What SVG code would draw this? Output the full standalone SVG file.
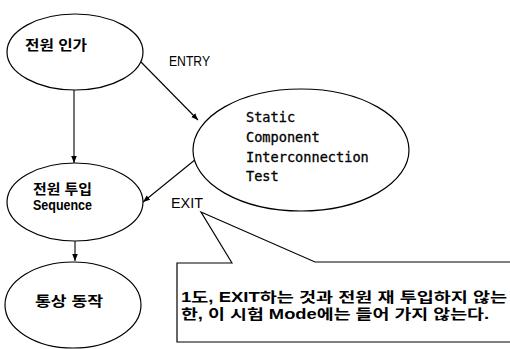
<svg xmlns="http://www.w3.org/2000/svg" width="510" height="349" viewBox="0 0 510 349">
<style>
.n{fill:#fff;stroke:#000;stroke-width:1.2}
.c{stroke:#000;stroke-width:1.1;fill:none}
.k{font-family:"Liberation Sans","Noto Sans CJK KR",sans-serif;font-size:14px;font-weight:bold;fill:#000}
.l{font-family:"Liberation Sans","Noto Sans CJK KR",sans-serif;font-size:14px;fill:#000}
.m{font-family:"DejaVu Sans Mono","Liberation Mono",monospace;font-size:13.6px;fill:#000;stroke:#000;stroke-width:0.3}
</style>
<defs>
<marker id="ah" viewBox="0 0 10 10" refX="10" refY="5" markerWidth="7" markerHeight="7" orient="auto" markerUnits="userSpaceOnUse">
<path d="M0,1 L10,5 L0,9 z" fill="#000"/>
</marker>
</defs>
<rect width="510" height="349" fill="#fff"/>
<g id="callout">
<path d="M232,263 L201,212 L315,262 L512,262 L512,342 L177,342 L177,263 Z" fill="#fff" stroke="#000" stroke-width="1.2"/>
<text class="k" x="181" y="302" textLength="326" lengthAdjust="spacingAndGlyphs">1도, EXIT하는 것과 전원 재 투입하지 않는</text>
<text class="k" x="181" y="319" textLength="308" lengthAdjust="spacingAndGlyphs">한, 이 시험 Mode에는 들어 가지 않는다.</text>
</g>
<g id="connectors">
<line class="c" x1="74" y1="90" x2="74" y2="163" marker-end="url(#ah)"/>
<line class="c" x1="141" y1="62" x2="198" y2="120" marker-end="url(#ah)"/>
<line class="c" x1="196" y1="159" x2="143" y2="202" marker-end="url(#ah)"/>
<line class="c" x1="75" y1="241" x2="75" y2="261" marker-end="url(#ah)"/>
<text class="l" x="169" y="66" font-size="15" textLength="41" lengthAdjust="spacingAndGlyphs">ENTRY</text>
<text class="l" x="171" y="208" font-size="15" textLength="32" lengthAdjust="spacingAndGlyphs">EXIT</text>
</g>
<g id="power-apply">
<ellipse class="n" cx="75" cy="52" rx="68" ry="38"/>
<text class="k" x="25" y="50" font-size="15" textLength="62" lengthAdjust="spacingAndGlyphs">전원 인가</text>
</g>
<g id="power-sequence">
<ellipse class="n" cx="75" cy="202" rx="68" ry="39"/>
<text class="k" x="33" y="194" textLength="59" lengthAdjust="spacingAndGlyphs">전원 투입</text>
<text class="k" x="33" y="210" textLength="59" lengthAdjust="spacingAndGlyphs">Sequence</text>
</g>
<g id="normal-op">
<ellipse class="n" cx="73" cy="305" rx="68" ry="43"/>
<text class="k" x="35" y="306" font-size="15" textLength="68" lengthAdjust="spacingAndGlyphs">통상 동작</text>
</g>
<g id="static-test">
<ellipse class="n" cx="301" cy="150" rx="108" ry="61"/>
<text class="m" x="246" y="122">Static</text>
<text class="m" x="246" y="142">Component</text>
<text class="m" x="246" y="162">Interconnection</text>
<text class="m" x="246" y="181">Test</text>
</g>
</svg>
